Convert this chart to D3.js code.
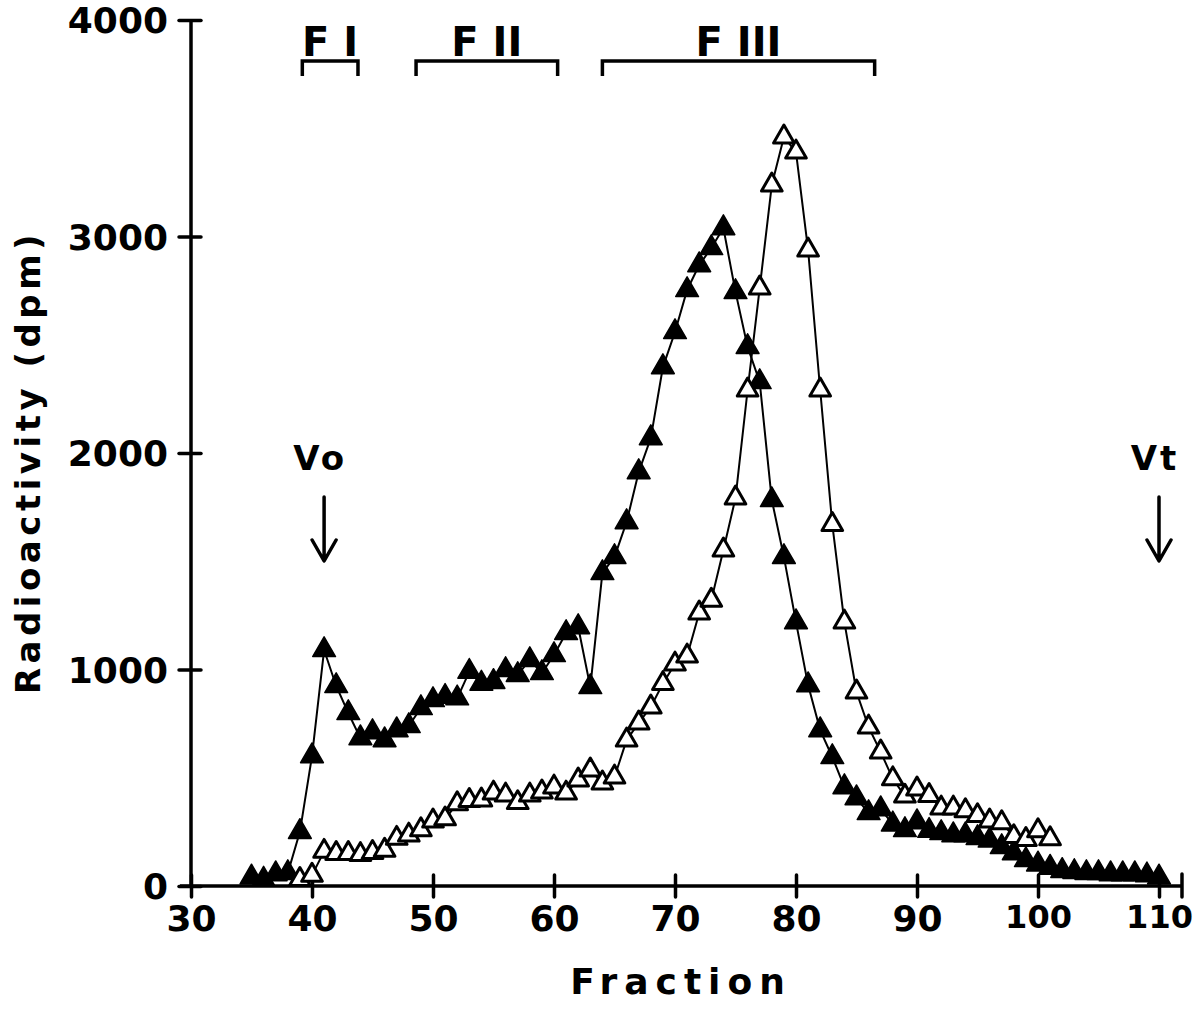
<!DOCTYPE html>
<html>
<head>
<meta charset="utf-8">
<script src="https://cdn.jsdelivr.net/npm/d3@7"></script>
<style>
  body { margin: 0; background: #fff; }
  text { font-family: "DejaVu Sans", sans-serif; font-weight: bold; fill: #000; }
</style>
</head>
<body>
<svg id="chart" width="1195" height="1019"></svg>
<script>
// filled triangles
const closedFractions = [35, 36, 37, 38, 39, 40, 41, 42, 43, 44, 45, 46, 47, 48, 49, 50, 51, 52, 53, 54,
  55, 56, 57, 58, 59, 60, 61, 62, 63, 64, 65, 66, 67, 68, 69, 70, 71, 72, 73, 74,
  75, 76, 77, 78, 79, 80, 81, 82, 83, 84, 85, 86, 87, 88, 89, 90, 91, 92, 93, 94,
  95, 96, 97, 98, 99, 100, 101, 102, 103, 104, 105, 106, 107, 108, 109, 110];
const closedDpm = [40, 30, 55, 60, 250, 600, 1090, 924, 799, 683, 711, 674, 720, 739, 822, 859, 874, 867, 990, 935,
  943, 998, 975, 1044, 984, 1067, 1169, 1196, 919, 1446, 1520, 1681, 1912, 2069, 2397, 2559, 2753, 2868, 2947, 3039,
  2744, 2490, 2328, 1783, 1520, 1219, 928, 720, 596, 457, 406, 337, 355, 285, 259, 295, 255, 245, 235, 235,
  222, 210, 180, 152, 120, 100, 85, 70, 65, 60, 60, 55, 55, 55, 50, 40];

// open triangles
const openFractions = [39, 40, 41, 42, 43, 44, 45, 46, 47, 48, 49, 50, 51, 52, 53, 54, 55, 56, 57, 58,
  59, 60, 61, 62, 63, 64, 65, 66, 67, 68, 69, 70, 71, 72, 73, 74, 75, 76, 77, 78,
  79, 80, 81, 82, 83, 84, 85, 86, 87, 88, 89, 90, 91, 92, 93, 94, 95, 96, 97, 98,
  99, 100, 101];
const openDpm = [30, 50, 160, 150, 150, 145, 155, 165, 220, 235, 260, 300, 310, 380, 395, 397, 429, 420, 385, 420,
  434, 457, 429, 490, 536, 476, 503, 674, 753, 827, 935, 1025, 1062, 1261, 1320, 1552, 1792, 2291, 2762, 3238,
  3460, 3390, 2938, 2291, 1670, 1219, 896, 734, 619, 495, 415, 448, 418, 360, 360, 348, 325, 300, 292, 228,
  215, 255, 218];

const xTicks = [30, 40, 50, 60, 70, 80, 90, 100, 110];
const yTicks = [0, 1000, 2000, 3000, 4000];

const peakLabels = ["F I", "F II", "F III"];
const peakStart = [39.2, 48.6, 64.0];
const peakEnd = [43.8, 60.3, 86.5];

const volumeLabels = ["Vo", "Vt"];
const volumeFractions = [41, 110];

const svg = d3.select("#chart");

const x = d3.scaleLinear().domain([30, 110]).range([191, 1159]);
const y = d3.scaleLinear().domain([0, 4000]).range([886, 20]);
const axisEnd = 111.9;

// x axis
const gx = svg.append("g").attr("transform", "translate(0," + y(0) + ")")
  .call(d3.axisBottom(x).tickValues(xTicks).tickSize(11).tickPadding(16).tickFormat(d3.format("d")));
gx.select(".domain").remove();
gx.selectAll(".tick line").attr("y1", -11).attr("y2", 11).attr("stroke-width", 3.5).attr("stroke-linecap", "round");
gx.selectAll(".tick text").attr("font-size", d => d >= 100 ? 32 : 36).attr("dy", "0.71em").attr("y", 19);
gx.append("line").attr("x1", x(30) - 11).attr("x2", x(axisEnd)).attr("stroke", "#000").attr("stroke-width", 3.5);
gx.append("line").attr("x1", x(axisEnd)).attr("x2", x(axisEnd)).attr("y1", -12).attr("y2", 11)
  .attr("stroke", "#000").attr("stroke-width", 3.5).attr("stroke-linecap", "round");

// y axis
const gy = svg.append("g").attr("transform", "translate(" + x(30) + ",0)")
  .call(d3.axisLeft(y).tickValues(yTicks).tickSize(12).tickPadding(10).tickFormat(d3.format("d")));
gy.select(".domain").remove();
gy.selectAll(".tick line").attr("x1", -12).attr("x2", 10).attr("stroke-width", 3.5).attr("stroke-linecap", "round");
gy.selectAll(".tick text").attr("font-size", 36).attr("x", -23).attr("dy", "0.36em");
gy.append("line").attr("y1", y(0)).attr("y2", y(4000)).attr("stroke", "#000").attr("stroke-width", 3.5);

// axis titles
svg.append("text").attr("x", 681).attr("y", 994).attr("text-anchor", "middle")
  .attr("font-size", 36).attr("letter-spacing", 7).text("Fraction");
svg.append("text").attr("transform", "translate(40,462) rotate(-90)").attr("text-anchor", "middle")
  .attr("font-size", 34).attr("letter-spacing", 4.5).text("Radioactivity (dpm)");

// series
const closed = closedFractions.map((f, i) => ({ f: f, v: closedDpm[i] }));
const open = openFractions.map((f, i) => ({ f: f, v: openDpm[i] }));
const line = d3.line().x(d => x(d.f)).y(d => y(d.v));

svg.append("path").datum(closed).attr("d", line)
  .attr("fill", "none").attr("stroke", "#000").attr("stroke-width", 2);
svg.append("g").selectAll("path").data(closed).enter().append("path")
  .attr("d", d3.symbol().type(d3.symbolTriangle).size(225))
  .attr("transform", d => "translate(" + x(d.f) + "," + y(d.v) + ")")
  .attr("fill", "#000").attr("stroke", "#000").attr("stroke-width", 1.5).attr("stroke-linejoin", "round");

svg.append("path").datum(open).attr("d", line)
  .attr("fill", "none").attr("stroke", "#000").attr("stroke-width", 2);
svg.append("g").selectAll("path").data(open).enter().append("path")
  .attr("d", d3.symbol().type(d3.symbolTriangle).size(185))
  .attr("transform", d => "translate(" + x(d.f) + "," + y(d.v) + ")")
  .attr("fill", "#fff").attr("stroke", "#000").attr("stroke-width", 3).attr("stroke-linejoin", "round");

// fraction pools
const pools = svg.append("g");
peakLabels.forEach((lab, i) => {
  const x0 = x(peakStart[i]), x1 = x(peakEnd[i]);
  pools.append("path")
    .attr("d", "M" + x0 + ",76V61H" + x1 + "V76")
    .attr("fill", "none").attr("stroke", "#000").attr("stroke-width", 3.5);
  pools.append("text").attr("x", (x0 + x1) / 2).attr("y", 56).attr("text-anchor", "middle")
    .attr("font-size", 40).text(lab);
});

// void / total volume markers
volumeLabels.forEach((lab, i) => {
  const cx = x(volumeFractions[i]);
  svg.append("text").attr("x", cx - 4).attr("y", 470).attr("text-anchor", "middle")
    .attr("font-size", 34).attr("letter-spacing", 3).text(lab);
  svg.append("path")
    .attr("d", "M" + cx + ",497V560M" + (cx - 12) + ",540L" + cx + ",561L" + (cx + 12) + ",540")
    .attr("fill", "none").attr("stroke", "#000").attr("stroke-width", 3.5)
    .attr("stroke-linecap", "round").attr("stroke-linejoin", "round");
});
</script>
</body>
</html>
